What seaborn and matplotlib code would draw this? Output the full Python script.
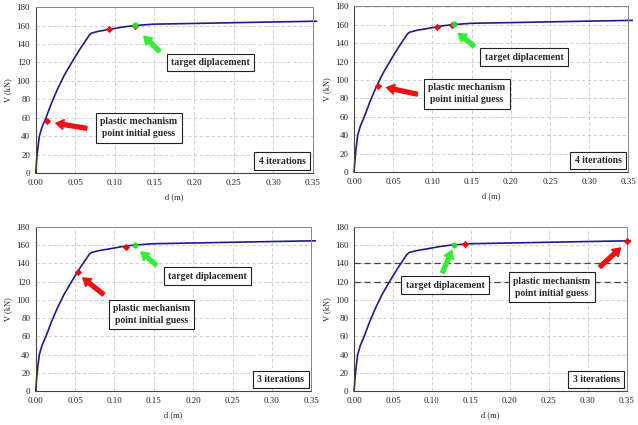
import numpy as np
import pandas as pd
import matplotlib
matplotlib.use("Agg")
import matplotlib.pyplot as plt
import seaborn as sns

# -----------------------------------
# Data: capacity (pushover) curve, shared by the four panels
# -----------------------------------
d_curve = [0.0, 0.001, 0.002, 0.0046, 0.008, 0.013, 0.02, 0.0275, 0.036, 0.0455, 0.057, 0.068,
           0.071, 0.08, 0.094, 0.11, 0.1235, 0.149, 0.2, 0.25, 0.3, 0.355]
v_curve = [0.0, 12.0, 22.0, 40.0, 50.0, 60.0, 76.0, 91.0, 106.0, 120.0, 136.0, 150.0,
           152.0, 154.0, 156.0, 158.5, 160.0, 161.6, 162.4, 163.2, 164.0, 164.8]

# iteration points (red) and target displacement (green) per panel
red_d = [[0.014, 0.093, 0.125], [0.030, 0.106, 0.125], [0.054, 0.115], [0.143, 0.350]]
red_v = [[56.0, 156.0, 160.0], [93.0, 157.5, 160.0], [131.0, 158.5], [161.0, 164.5]]
green_d = [0.126, 0.127, 0.126, 0.128]
green_v = [160.5, 160.5, 160.5, 160.5]

iter_labels = ["4 iterations", "4 iterations", "3 iterations", "3 iterations"]
ref_lines = [[], [180], [], [140, 120]]

x_ticks = [0.0, 0.05, 0.10, 0.15, 0.20, 0.25, 0.30, 0.35]
y_ticks = [0, 20, 40, 60, 80, 100, 120, 140, 160, 180]

# annotation layout: (box centre, arrow tail, arrow head)
target_ann = [((0.221, 120), (0.159, 130), (0.134, 150.5)),
              ((0.217, 125), (0.156, 135), (0.130, 152.5)),
              ((0.218, 126), (0.156, 136), (0.131, 154.5)),
              ((0.117, 116), (0.112, 127), (0.127, 157))]
plastic_ann = [((0.130, 49), (0.068, 48), (0.022, 54.5)),
               ((0.144, 85), (0.084, 84), (0.038, 92.5)),
               ((0.147, 84), (0.089, 104), (0.057, 126)),
               ((0.254, 114), (0.313, 134), (0.345, 159))]

df = pd.DataFrame({"d": d_curve, "V": v_curve})

sns.set_style("whitegrid")
plt.rcParams["font.family"] = ["Liberation Serif", "DejaVu Serif"]

fig = plt.figure(figsize=(6.38, 4.25), dpi=100)
positions = [[0.056, 0.593, 0.434, 0.39], [0.555, 0.595, 0.430, 0.39],
             [0.056, 0.080, 0.432, 0.386], [0.555, 0.080, 0.427, 0.386]]

arrow_style = "simple,head_length=0.55,head_width=0.7,tail_width=0.28"
box_style = dict(boxstyle="square,pad=0.45", fc="white", ec="#222222", lw=0.8)

for i in range(4):
    ax = fig.add_axes(positions[i])
    line = sns.lineplot(data=df, x="d", y="V", ax=ax, color="#1c1c8c", linewidth=1.2)
    for ln in ax.lines:
        ln.set_clip_on(False)

    for y in ref_lines[i]:
        ax.axhline(y, color="#444444", linestyle=(0, (5, 3)), linewidth=0.9, zorder=1)

    ax.scatter(red_d[i], red_v[i], marker="D", s=14, color="red", zorder=4, linewidths=0, clip_on=False)
    ax.scatter([green_d[i]], [green_v[i]], marker="o", s=18, color="#22dd22", zorder=5, linewidths=0)

    # target displacement
    box, tail, head = target_ann[i]
    ax.annotate("", xy=head, xytext=tail,
                arrowprops=dict(arrowstyle=arrow_style, color="#33ee33", mutation_scale=10))
    ax.text(box[0], box[1], "target diplacement", ha="center", va="center",
            fontsize=7, fontweight="bold", bbox=box_style, zorder=6)

    # plastic mechanism initial guess
    box, tail, head = plastic_ann[i]
    ax.annotate("", xy=head, xytext=tail,
                arrowprops=dict(arrowstyle=arrow_style, color="#ee1111", mutation_scale=10))
    ax.text(box[0], box[1], "plastic mechanism\npoint initial guess", ha="center", va="center",
            fontsize=7, fontweight="bold", bbox=box_style, linespacing=1.4, zorder=6)

    ax.text(0.975, 0.07, iter_labels[i], transform=ax.transAxes, ha="right", va="center",
            fontsize=7, fontweight="bold", bbox=box_style, zorder=6)

    ax.set_xlim(0, 0.35)
    ax.set_ylim(0, 180)
    ax.set_xticks(x_ticks)
    ax.set_yticks(y_ticks)
    ax.set_xticklabels(["%.2f" % t for t in x_ticks])
    ax.tick_params(labelsize=6.5, length=2, pad=2, color="#555555")
    ax.set_xlabel("d (m)", fontsize=6, labelpad=5)
    ax.set_ylabel("V (kN)", fontsize=6, labelpad=3)
    ax.grid(True, color="#c8c8c8", linestyle=(0, (4, 3)), linewidth=0.6)
    for side in ["left", "bottom"]:
        ax.spines[side].set_color("#444444")
        ax.spines[side].set_linewidth(0.8)
    for side in ["top", "right"]:
        ax.spines[side].set_color("#888888")
        ax.spines[side].set_linewidth(0.7)

fig.savefig("out.png", dpi=100)
